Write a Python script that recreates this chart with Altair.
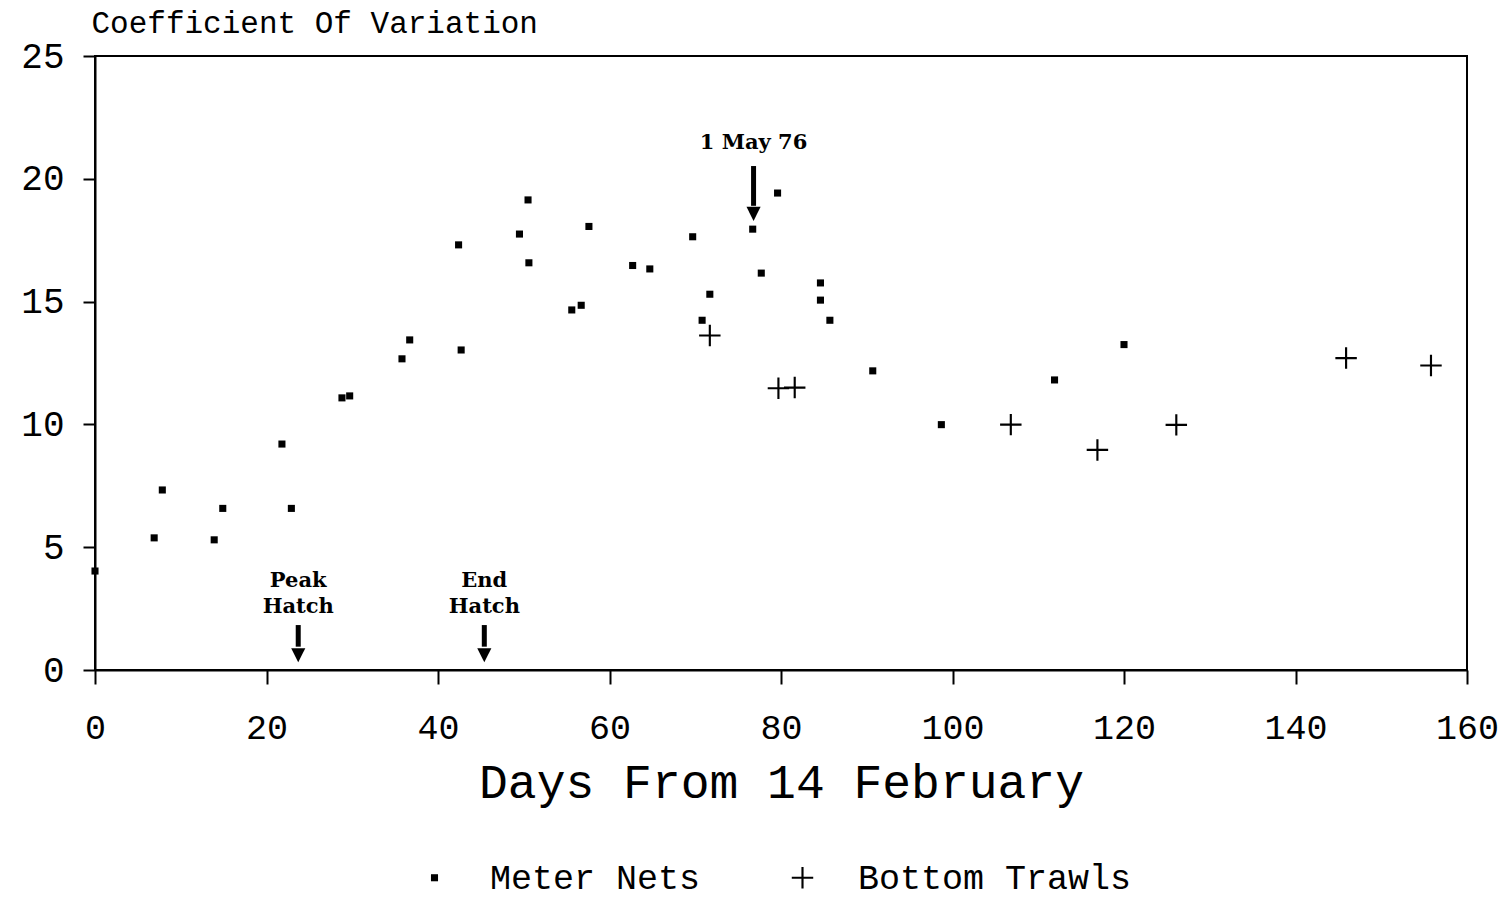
import altair as alt
import pandas as pd

# Meter nets
net_day = [0, 6.9, 7.85, 13.9, 14.9, 21.8, 22.9, 28.8, 29.7, 35.8, 36.7, 42.4, 42.7,
           49.5, 50.5, 50.6, 55.6, 56.7, 57.6, 62.7, 64.7, 69.7, 70.8, 71.7, 76.7,
           77.7, 79.6, 84.6, 84.6, 85.7, 90.7, 98.7, 111.9, 120.0]
net_cv = [4.03, 5.38, 7.33, 5.30, 6.58, 9.2, 6.58, 11.08, 11.16, 12.67, 13.44, 17.31, 13.03,
          17.75, 19.14, 16.58, 14.66, 14.85, 18.06, 16.47, 16.33, 17.64, 14.24, 15.30, 17.95,
          16.16, 19.42, 15.76, 15.06, 14.24, 12.18, 9.99, 11.81, 13.25]

# Bottom trawls
trawl_day = [71.7, 79.7, 81.6, 106.8, 116.9, 126.1, 145.9, 155.8]
trawl_cv = [13.62, 11.47, 11.5, 9.99, 8.96, 9.98, 12.70, 12.40]

series_names = ["Meter Nets", "Bottom Trawls"]

# Annotations
ann_label = ["1 May 76", "Peak", "Hatch", "End", "Hatch"]
ann_day = [76.8, 23.7, 23.7, 45.4, 45.4]
ann_cv = [21.45, 3.62, 2.55, 3.62, 2.55]

arrow_day = [76.8, 23.7, 45.4]
arrow_top = [20.52, 1.83, 1.83]
arrow_base = [18.9, 0.95, 0.95]
arrow_head = [18.57, 0.6, 0.6]

pts = pd.DataFrame({
    "day": net_day + trawl_day,
    "cv": net_cv + trawl_cv,
    "series": [series_names[0]] * len(net_day) + [series_names[1]] * len(trawl_day),
})
ann = pd.DataFrame({"day": ann_day, "cv": ann_cv, "label": ann_label})
arr = pd.DataFrame({"day": arrow_day, "top": arrow_top, "base": arrow_base, "head": arrow_head})

FONT = "Liberation Mono"
BFONT = "DejaVu Serif"
# thin plus sign drawn as a filled outline
t = 0.1
CROSS = (f"M-1,-{t}L-{t},-{t}L-{t},-1L{t},-1L{t},-{t}L1,-{t}L1,{t}L{t},{t}"
         f"L{t},1L-{t},1L-{t},{t}L-1,{t}Z")

xscale = alt.Scale(domain=[0, 160], nice=False, zero=False)
yscale = alt.Scale(domain=[0, 25], nice=False)

xaxis = alt.Axis(values=list(range(0, 161, 20)), title="Days From 14 February",
                 grid=False, tickSize=14, tickWidth=2, tickColor="black",
                 domainColor="black", domainWidth=2, labelFlush=False,
                 labelFont=FONT, labelFontSize=35, labelColor="black", labelPadding=26,
                 titleFont=FONT, titleFontSize=48, titleFontWeight="normal",
                 titleColor="black", titlePadding=14)
yaxis = alt.Axis(values=list(range(0, 26, 5)), title="Coefficient Of Variation",
                 grid=False, tickSize=12, tickWidth=2, tickColor="black",
                 domainColor="black", domainWidth=2, labelFlush=False,
                 labelFont=FONT, labelFontSize=36, labelColor="black", labelPadding=19,
                 titleFont=FONT, titleFontSize=31, titleFontWeight="normal",
                 titleColor="black", titleAngle=0, titleAlign="left",
                 titleBaseline="middle", titleX=-4, titleY=-33, titleLimit=800)

legend = alt.Legend(title=None, orient="none", direction="horizontal",
                    legendX=322, legendY=804,
                    labelFont=FONT, labelFontSize=35, labelColor="black", labelLimit=400,
                    labelOffset=38, columnPadding=84, padding=0,
                    symbolFillColor="black", symbolOpacity=1, symbolStrokeWidth=0)

points = alt.Chart(pts).mark_point(filled=True, fill="black", strokeWidth=0, opacity=1).encode(
    x=alt.X("day:Q", scale=xscale, axis=xaxis),
    y=alt.Y("cv:Q", scale=yscale, axis=yaxis),
    shape=alt.Shape("series:N", scale=alt.Scale(domain=series_names, range=["square", CROSS]),
                    legend=legend),
    size=alt.Size("series:N", scale=alt.Scale(domain=series_names, range=[50, 460]),
                  legend=legend),
)

texts = alt.Chart(ann).mark_text(font=BFONT, fontSize=21, fontWeight="bold",
                                 color="black", align="center", baseline="middle").encode(
    x=alt.X("day:Q", scale=xscale),
    y=alt.Y("cv:Q", scale=yscale),
    text="label:N",
)

shafts = alt.Chart(arr).mark_rule(color="black", strokeWidth=5).encode(
    x=alt.X("day:Q", scale=xscale),
    y=alt.Y("top:Q", scale=yscale),
    y2="base:Q",
)

heads = alt.Chart(arr).mark_point(shape="M-1,-1L1,-1L0,1Z", filled=True, fill="black",
                                  size=200, opacity=1).encode(
    x=alt.X("day:Q", scale=xscale),
    y=alt.Y("head:Q", scale=yscale),
)

chart = alt.layer(points, shafts, heads, texts).properties(
    width=1372, height=614,
    padding={"left": 87, "top": 48, "right": 33, "bottom": 229},
    autosize=alt.AutoSizeParams(type="none"),
    background="white",
).configure_view(stroke="black", strokeWidth=2)

chart.save("out.html", embed_options={"renderer": "svg", "actions": False})
